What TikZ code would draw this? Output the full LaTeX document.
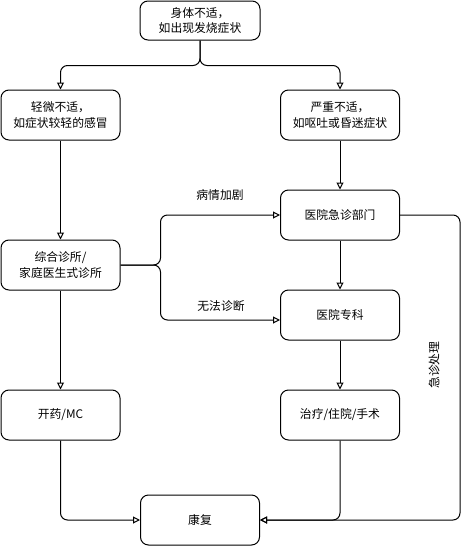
\documentclass[tikz,border=0pt]{standalone}
\usepackage{fontspec}
\setmainfont{Noto Sans CJK SC}
\usetikzlibrary{arrows.meta,calc}
\begin{document}
\begin{tikzpicture}[x=1pt,y=-1pt,
 box/.style={draw, rounded corners=8pt, minimum width=119pt, minimum height=50pt, align=center,
   font=\fontsize{11.8}{15.5}\selectfont, inner sep=0pt, line width=1pt},
 conn/.style={draw, line width=1pt, rounded corners=7pt, -{Triangle[open,length=7pt,width=7pt]}},
 lbl/.style={font=\fontsize{11.8}{15}\selectfont, inner sep=0pt}]
\useasboundingbox (0,0) rectangle (469,546);
\node[box, minimum width=120pt, minimum height=39pt] (top) at (200,20.5) {身体不适，\\如出现发烧症状};
\node[box] (l1) at (60.5,115) {轻微不适，\\如症状较轻的感冒};
\node[box] (r1) at (340,115) {严重不适，\\如呕吐或昏迷症状};
\node[box] (clinic) at (60.5,265) {综合诊所/\\家庭医生式诊所};
\node[box] (er) at (340,215) {医院急诊部门};
\node[box] (spec) at (340,315) {医院专科};
\node[box] (med) at (60.5,415) {开药/MC};
\node[box] (treat) at (340,415) {治疗/住院/手术};
\node[box] (rec) at (200,520) {康复};
\draw[conn] (top.south) -- ++(0,25) -| (l1.north);
\draw[conn] (top.south) -- ++(0,25) -| (r1.north);
\draw[conn] (l1) -- (clinic);
\draw[conn] (r1) -- (er);
\draw[conn] (clinic.east) -- ++(40,0) |- (er.west);
\draw[conn] (clinic.east) -- ++(40,0) |- ($(spec.west)+(0,5)$);
\draw[conn] (er) -- (spec);
\draw[conn] (spec) -- (treat);
\draw[conn] (clinic) -- (med);
\draw[conn] (med.south) |- (rec.west);
\draw[conn] (treat.south) |- (rec.east);
\draw[conn] (er.east) -- ++(60,0) |- (rec.east);
\node[lbl] (t1) at (220,195) {病情加剧};
\node[lbl] (t2) at (221,306) {无法诊断};
\node[lbl, rotate=90] (t3) at (434,365) {急诊处理};
\end{tikzpicture}
\end{document}
